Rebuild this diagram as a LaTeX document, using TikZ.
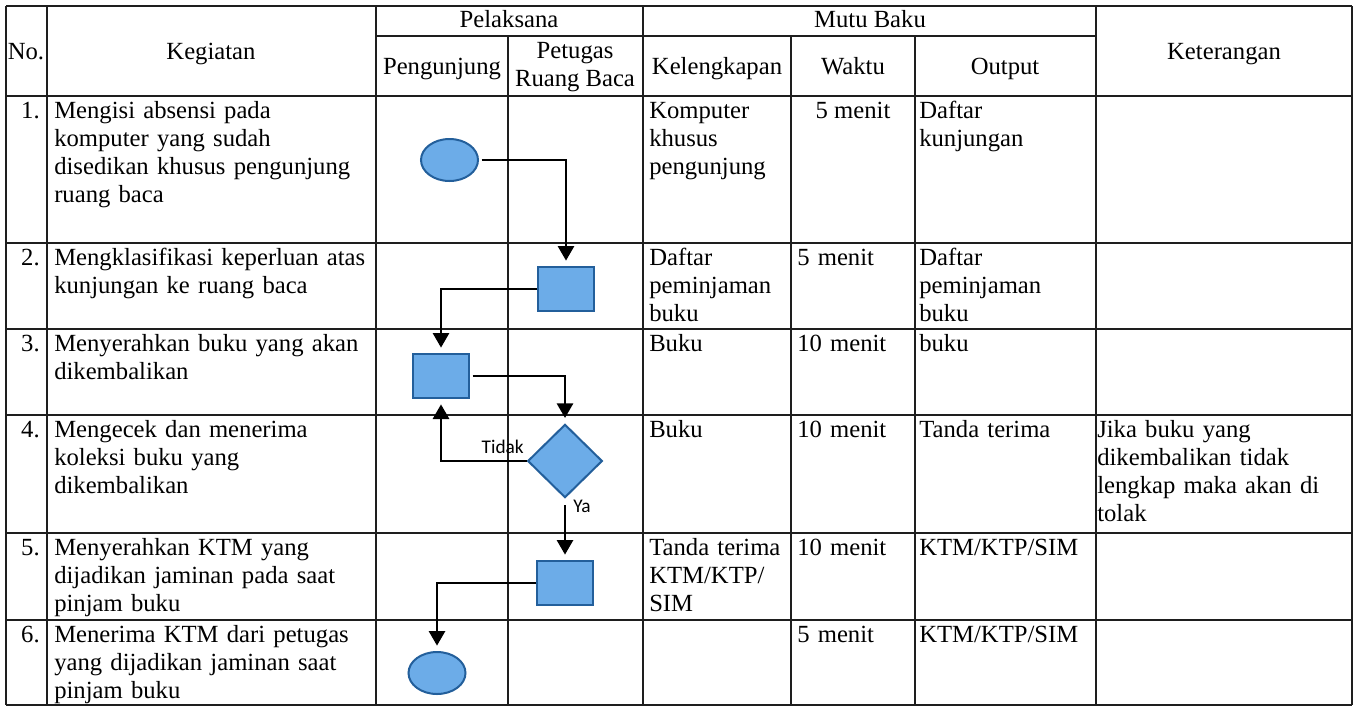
\documentclass[tikz,border=0pt]{standalone}
\usepackage{fontspec}
\setmainfont{Liberation Serif}
\newfontfamily\lblfont{Carlito}
\usetikzlibrary{shapes.geometric,arrows.meta}
\definecolor{shapefill}{RGB}{108,172,232}
\definecolor{shapedraw}{RGB}{35,95,155}
\definecolor{gridcol}{RGB}{30,30,30}
\begin{document}
\begin{tikzpicture}[x=0.75pt,y=-0.75pt,
  gridline/.style={line width=1.1pt,draw=gridcol},
  cell/.style={anchor=base west,inner sep=0pt,align=left,text width=250pt,font=\fontsize{18.5}{21}\selectfont},
  numcell/.style={anchor=base east,inner sep=0pt,font=\fontsize{18.5}{21}\selectfont},
  hdr/.style={anchor=base,inner sep=0pt,align=center,font=\fontsize{18.5}{21}\selectfont},
  termshape/.style={ellipse,draw=shapedraw,fill=shapefill,line width=1.5pt,minimum width=42.75pt,minimum height=31.5pt,inner sep=0pt},
  procshape/.style={rectangle,draw=shapedraw,fill=shapefill,line width=1.5pt,minimum width=42pt,minimum height=33pt,inner sep=0pt},
  decshape/.style={diamond,draw=shapedraw,fill=shapefill,line width=1.5pt,minimum width=56pt,minimum height=55pt,inner sep=0pt},
  arr/.style={line width=2.2pt,-{Triangle[length=11pt,width=12pt]},shorten >=4pt,shorten <=2pt},
  lbl/.style={inner sep=0pt,font=\lblfont\fontsize{14.5}{16}\selectfont}
]
\useasboundingbox (0,0) rectangle (1358,707);
\fill[white] (0,0) rectangle (1358,707);

% ---- grid ----
\foreach \yy in {6,96,243,329,415,533,620,705}
  \draw[gridline] (6,\yy) -- (1352,\yy);
\draw[gridline] (376,36) -- (1096,36);
\foreach \xx in {6,47,376,643,1096,1352}
  \draw[gridline] (\xx,6) -- (\xx,705);
\foreach \xx in {508,791,915}
  \draw[gridline] (\xx,36) -- (\xx,705);

% ---- header ----
\node[hdr] (hPel) at (509,27) {Pelaksana};
\node[hdr] (hMutu) at (870,27) {Mutu Baku};
\node[hdr] (hNo) at (26,59) {No.};
\node[hdr] (hKeg) at (211,59) {Kegiatan};
\node[hdr] (hPeng) at (442,74) {Pengunjung};
\node[hdr] (hPet) at (575,86) {Petugas\\Ruang Baca};
\node[hdr] (hKel) at (717,74) {Kelengkapan};
\node[hdr] (hWak) at (853,74) {Waktu};
\node[hdr] (hOut) at (1005,74) {Output};
\node[hdr] (hKet) at (1224,59) {Keterangan};

% ---- row 1 ----
\node[numcell] (n1) at (40,118) {1.};
\node[cell] (k1) at (54,118) {Mengisi absensi pada\\komputer yang sudah\\disedikan khusus pengunjung\\ruang baca};
\node[cell] (l1) at (649,118) {Komputer\\khusus\\pengunjung};
\node[hdr] (w1) at (853,118) {5 menit};
\node[cell] (o1) at (919,118) {Daftar\\kunjungan};

% ---- row 2 ----
\node[numcell] (n2) at (40,265) {2.};
\node[cell] (k2) at (54,265) {Mengklasifikasi keperluan atas\\kunjungan ke ruang baca};
\node[cell] (l2) at (649,265) {Daftar\\peminjaman\\buku};
\node[cell] (w2) at (797,265) {5 menit};
\node[cell] (o2) at (919,265) {Daftar\\peminjaman\\buku};

% ---- row 3 ----
\node[numcell] (n3) at (40,351) {3.};
\node[cell] (k3) at (54,351) {Menyerahkan buku yang akan\\dikembalikan};
\node[cell] (l3) at (649,351) {Buku};
\node[cell] (w3) at (797,351) {10 menit};
\node[cell] (o3) at (919,351) {buku};

% ---- row 4 ----
\node[numcell] (n4) at (40,437) {4.};
\node[cell] (k4) at (54,437) {Mengecek dan menerima\\koleksi buku yang\\dikembalikan};
\node[cell] (l4) at (649,437) {Buku};
\node[cell] (w4) at (797,437) {10 menit};
\node[cell] (o4) at (919,437) {Tanda terima};
\node[cell] (t4) at (1097,437) {Jika buku yang\\dikembalikan tidak\\lengkap maka akan di\\tolak};

% ---- row 5 ----
\node[numcell] (n5) at (40,555) {5.};
\node[cell] (k5) at (54,555) {Menyerahkan KTM yang\\dijadikan jaminan pada saat\\pinjam buku};
\node[cell] (l5) at (649,555) {Tanda terima\\KTM/KTP/\\SIM};
\node[cell] (w5) at (797,555) {10 menit};
\node[cell] (o5) at (919,555) {KTM/KTP/SIM};

% ---- row 6 ----
\node[numcell] (n6) at (40,642) {6.};
\node[cell] (k6) at (54,642) {Menerima KTM dari petugas\\yang dijadikan jaminan saat\\pinjam buku};
\node[cell] (w6) at (797,642) {5 menit};
\node[cell] (o6) at (919,642) {KTM/KTP/SIM};

% ---- flow shapes ----
\node[termshape] (e1) at (449.5,160) {};
\node[procshape] (r2) at (566,289) {};
\node[procshape] (r3) at (441,376) {};
\node[decshape] (d4) at (565,461) {};
\node[procshape] (r5) at (565,583) {};
\node[termshape] (e6) at (437,673) {};

% ---- connectors ----
\draw[arr] (e1.east) -| (r2.north);
\draw[arr,shorten <=0pt] (r2.west) -| (r3.north);
\draw[arr] (r3.east) -| (d4.north);
\draw[arr,shorten <=0pt] (d4.west) -| (r3.south);
\draw[arr,shorten <=5pt] (d4.south) -- (r5.north);
\draw[arr,shorten <=0pt] (r5.west) -| (e6.north);

\node[lbl,anchor=base east] (tidak) at (524,453) {Tidak};
\node[lbl,anchor=base west] (ya) at (573,512) {Ya};
\end{tikzpicture}
\end{document}
